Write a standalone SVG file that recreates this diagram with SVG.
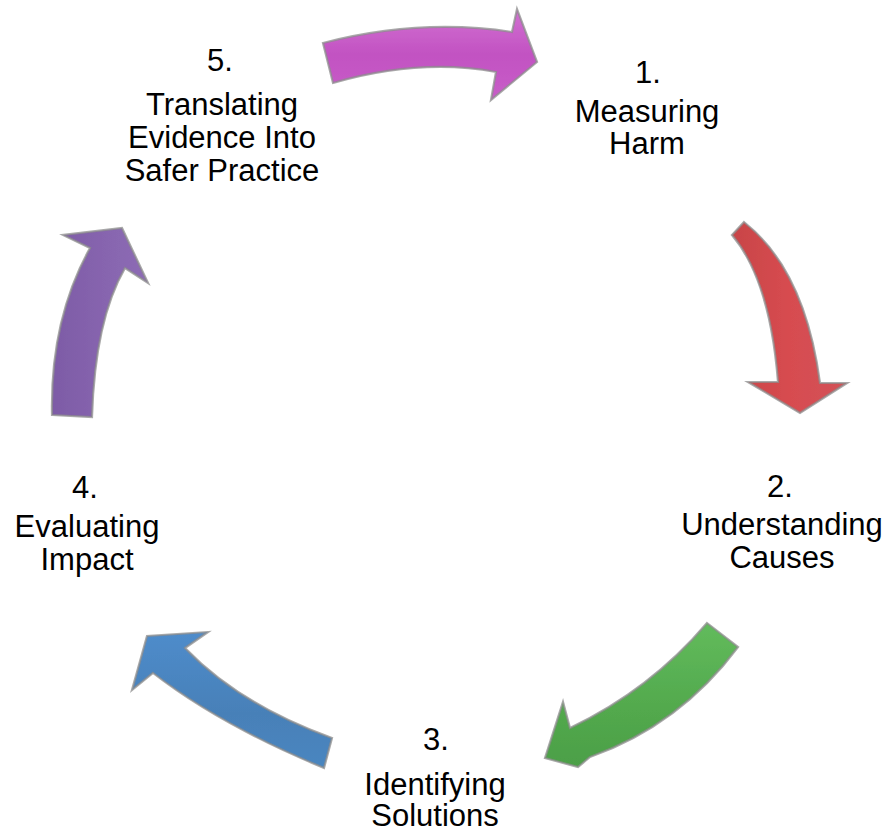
<svg xmlns="http://www.w3.org/2000/svg" width="890" height="832" viewBox="0 0 890 832">
<defs>
<style>
.lbl{font-family:"Liberation Sans",Arial,sans-serif;font-size:31px;fill:#000;text-anchor:middle}
.arr{stroke:#8c8c8c;stroke-opacity:0.75;stroke-width:2.2;stroke-linejoin:miter;filter:url(#soft)}
</style>
<filter id="soft" x="-10%" y="-10%" width="120%" height="120%"><feGaussianBlur stdDeviation="0.7"/></filter>
<linearGradient id="gM" x1="0" y1="0" x2="0" y2="1"><stop offset="0" stop-color="#d271d2"/><stop offset="0.5" stop-color="#c252c2"/><stop offset="1" stop-color="#c85ec8"/></linearGradient>
<linearGradient id="gR" x1="0" y1="0" x2="1" y2="0"><stop offset="0" stop-color="#c84448"/><stop offset="0.5" stop-color="#d74c50"/><stop offset="1" stop-color="#d25257"/></linearGradient>
<linearGradient id="gG" x1="0" y1="0" x2="0" y2="1"><stop offset="0" stop-color="#62bb5c"/><stop offset="0.6" stop-color="#52a94d"/><stop offset="1" stop-color="#4c9f47"/></linearGradient>
<linearGradient id="gB" x1="0" y1="0" x2="0" y2="1"><stop offset="0" stop-color="#4f8ccb"/><stop offset="0.6" stop-color="#4780b8"/><stop offset="1" stop-color="#4a86c0"/></linearGradient>
<linearGradient id="gP" x1="0" y1="0" x2="1" y2="0"><stop offset="0" stop-color="#7d5ba6"/><stop offset="0.5" stop-color="#8664ae"/><stop offset="1" stop-color="#8d6bb5"/></linearGradient>
</defs>
<rect width="890" height="832" fill="#fff"/>
<g id="connectors">
<path id="arrow-5-1" class="arr" fill="url(#gM)" d="M323,43 Q420,18 512,32 L517,9 L537,62 L491,100 L496,72 Q420,58 333,83 Z"/>
<path id="arrow-1-2" class="arr" fill="url(#gR)" d="M732,235 L744,222 Q805,270 820,383 L847,383 L800,413 L748,382 L778,382 Q770,280 732,235 Z"/>
<path id="arrow-2-3" class="arr" fill="url(#gG)" d="M707,623 L738,647 Q680,725 590,757 L578,767 L545,758 L563,702 L570,728 Q650,690 707,623 Z"/>
<path id="arrow-3-4" class="arr" fill="url(#gB)" d="M332,738 L324,768 Q220,725 153,673 L132,690 L147,636 L208,632 L185,648 Q240,705 332,738 Z"/>
<path id="arrow-4-5" class="arr" fill="url(#gP)" d="M52,415 L92,417 Q95,320 125,268 L148,283 L122,228 L63,235 L90,248 Q50,320 52,415 Z"/>
</g>
<g id="node-1"><text class="lbl" x="648" y="83">1.</text><text class="lbl" x="647" y="122">Measuring</text><text class="lbl" x="647" y="154">Harm</text></g>
<g id="node-2"><text class="lbl" x="780" y="497">2.</text><text class="lbl" x="782" y="535">Understanding</text><text class="lbl" x="782" y="568">Causes</text></g>
<g id="node-3"><text class="lbl" x="436" y="750">3.</text><text class="lbl" x="435" y="795">Identifying</text><text class="lbl" x="435" y="826">Solutions</text></g>
<g id="node-4"><text class="lbl" x="85" y="498">4.</text><text class="lbl" x="87" y="537">Evaluating</text><text class="lbl" x="87" y="570">Impact</text></g>
<g id="node-5"><text class="lbl" x="220" y="71">5.</text><text class="lbl" x="222" y="115">Translating</text><text class="lbl" x="222" y="148">Evidence Into</text><text class="lbl" x="222" y="181">Safer Practice</text></g>
</svg>
